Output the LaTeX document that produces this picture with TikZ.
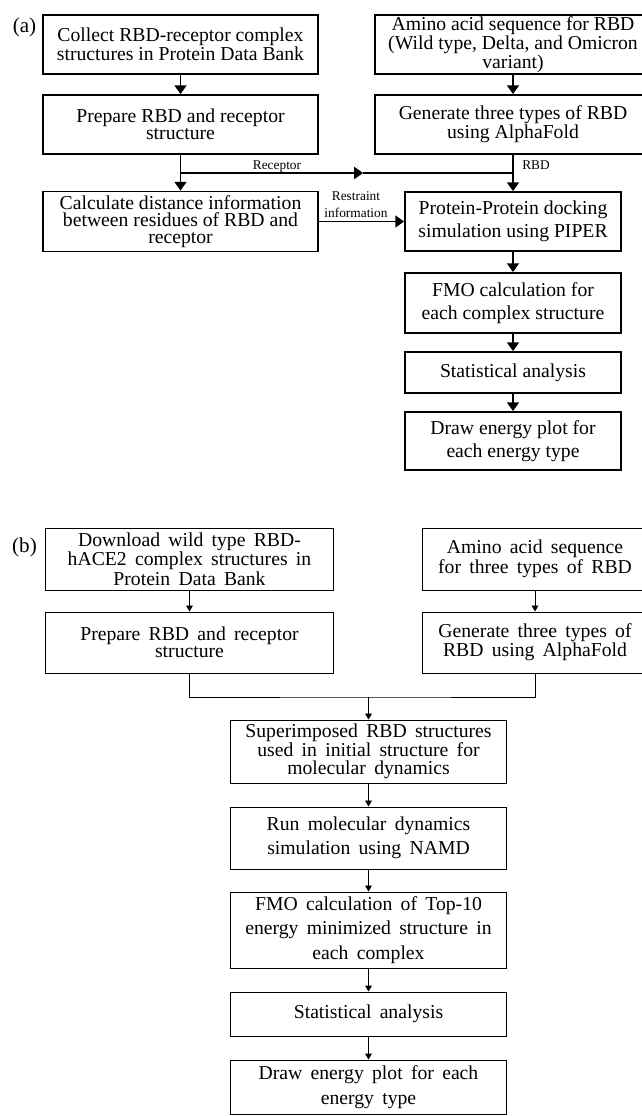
\documentclass[tikz,border=0pt]{standalone}
\usepackage{fontspec}
\setmainfont{Liberation Serif}
\usepackage{tikz}
\usetikzlibrary{positioning, arrows.meta, calc}
\newcommand{\widespace}{\spaceskip=0.42em plus 0.1em minus 0.05em\relax}

\begin{document}
\begin{tikzpicture}[x=0.025cm, y=-0.025cm,
  boxa/.style={draw, line width=1.3pt, align=center, inner sep=0pt, font=\fontsize{14}{12}\selectfont},
  widea/.style={font=\fontsize{14}{16.5}\selectfont},
  boxb/.style={draw, line width=0.7pt, align=center, inner sep=0pt, font=\fontsize{14}{11.8}\selectfont\widespace},
  wideb/.style={font=\fontsize{14}{17.4}\selectfont\widespace},
  arra/.style={line width=1.3pt, -{Triangle[width=0.3cm,length=0.22cm]}},
  arrb/.style={line width=0.7pt, -{Triangle[width=0.17cm,length=0.15cm]}},
  lab/.style={font=\fontsize{9.5}{11.9}\selectfont, inner sep=0pt, align=center}]
\useasboundingbox (0,0) rectangle (641,1116);

\node[font=\fontsize{15}{15}\selectfont] (taga) at (24.5,27.5) {(a)};
\node[boxa, minimum width=6.875cm, minimum height=1.475cm] (collect) at (180.5,44.5) {Collect RBD-receptor complex\\structures in Protein Data Bank};
\node[boxa, minimum width=6.875cm, minimum height=1.475cm] (prepare) at (180.5,124.5) {Prepare RBD and receptor\\structure};
\node[boxa, minimum width=6.875cm, minimum height=1.5cm] (distance) at (180.5,221.5) {Calculate distance information\\between residues of RBD and\\receptor};
\node[boxa, minimum width=6.9cm, minimum height=1.475cm] (aminoa) at (513,44.5) {Amino acid sequence for RBD\\(Wild type, Delta, and Omicron\\variant)};
\node[boxa, minimum width=6.9cm, minimum height=1.475cm] (alphaa) at (513,124.5) {Generate three types of RBD\\using AlphaFold};
\node[boxa, widea, minimum width=5.4cm, minimum height=1.475cm] (docking) at (513,221.5) {Protein-Protein docking\\simulation using PIPER};
\node[boxa, widea, minimum width=5.4cm, minimum height=1.5cm] (fmoa) at (513,303) {FMO calculation for\\each complex structure};
\node[boxa, widea, minimum width=5.4cm, minimum height=1.025cm] (stata) at (513,372.5) {Statistical analysis};
\node[boxa, widea, minimum width=5.4cm, minimum height=1.45cm] (plota) at (513,441) {Draw energy plot for\\each energy type};

\coordinate (recjoin) at (180.5,173);
\coordinate (rectip) at (363,173);
\coordinate (rbdjoin) at (513,173);
\draw[arra] (collect.south) -- (prepare.north);
\draw[arra] (prepare.south) -- (distance.north);
\draw[arra] (recjoin) -- (rectip);
\draw[line width=1.3pt] (rectip) -- (rbdjoin);
\draw[arra] (aminoa.south) -- (alphaa.north);
\draw[arra] (alphaa.south) -- (docking.north);
\draw[arra] (distance.east) -- (docking.west);
\draw[arra] (docking.south) -- (fmoa.north);
\draw[arra] (fmoa.south) -- (stata.north);
\draw[arra] (stata.south) -- (plota.north);
\node[lab, anchor=base] (reclab) at (277,169.5) {Receptor};
\node[lab, anchor=base] (rbdlab) at (536,169.5) {RBD};
\node[lab] (restlab) at (356,205) {Restraint\\information};

\node[font=\fontsize{15}{15}\selectfont] (tagb) at (24.5,547) {(b)};
\node[boxb, minimum width=7.175cm, minimum height=1.55cm] (download) at (189.5,559) {Download wild type RBD-\\hACE2 complex structures in\\Protein Data Bank};
\node[boxb, minimum width=7.175cm, minimum height=1.525cm] (prepareb) at (189.5,642.5) {Prepare RBD and receptor\\structure};
\node[boxb, minimum width=5.6cm, minimum height=1.55cm] (aminob) at (535,559) {Amino acid sequence\\for three types of RBD};
\node[boxb, minimum width=5.6cm, minimum height=1.525cm] (alphab) at (535,642.5) {Generate three types of\\RBD using AlphaFold};
\node[boxb, font=\fontsize{14}{12.8}\selectfont\widespace, minimum width=6.875cm, minimum height=1.575cm] (superimp) at (368.5,751.5) {Superimposed RBD structures\\used in initial structure for\\molecular dynamics};
\node[boxb, wideb, minimum width=6.875cm, minimum height=1.55cm] (namd) at (368.5,838) {Run molecular dynamics\\simulation using NAMD};
\node[boxb, wideb, minimum width=6.875cm, minimum height=1.9cm] (fmob) at (368.5,930) {FMO calculation of Top-10\\energy minimized structure in\\each complex};
\node[boxb, wideb, minimum width=6.875cm, minimum height=1.1cm] (statb) at (368.5,1014) {Statistical analysis};
\node[boxb, wideb, minimum width=6.875cm, minimum height=1.35cm] (plotb) at (368.5,1087) {Draw energy plot for each\\energy type};

\coordinate (mergeb) at (368.5,697);
\draw[arrb] (download.south) -- (prepareb.north);
\draw[arrb] (aminob.south) -- (alphab.north);
\draw[line width=0.7pt] (prepareb.south) |- (mergeb) -| (alphab.south);
\draw[arrb] (mergeb) -- (superimp.north);
\draw[arrb] (superimp.south) -- (namd.north);
\draw[arrb] (namd.south) -- (fmob.north);
\draw[arrb] (fmob.south) -- (statb.north);
\draw[arrb] (statb.south) -- (plotb.north);
\end{tikzpicture}
\end{document}
